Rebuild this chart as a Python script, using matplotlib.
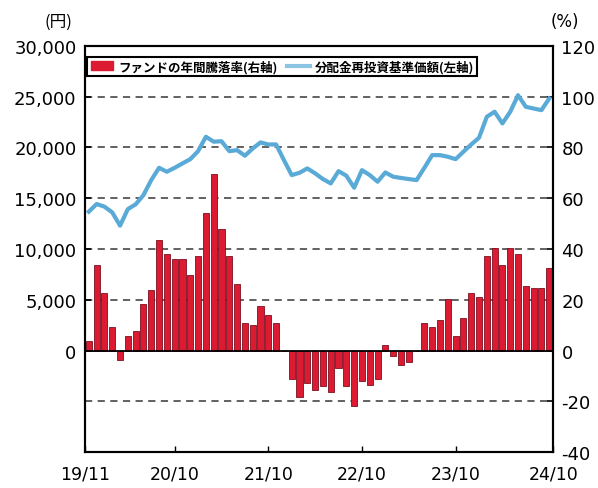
import matplotlib
matplotlib.use("Agg")
import matplotlib.pyplot as plt
from matplotlib.patches import Patch
from matplotlib.lines import Line2D
import numpy as np

plt.rcParams['font.family'] = ['DejaVu Sans', 'Noto Sans CJK JP']

# Annual return of the fund (%), right axis, monthly 2019/11 - 2024/10
annual_return = [3.8, 33.5, 22.8, 9.3, -3.9, 5.8, 7.5, 18.4, 23.8, 43.4,
                 38.0, 36.2, 36.2, 29.8, 37.1, 54.2, 69.4, 47.9, 37.1, 26.4,
                 11.0, 10.2, 17.5, 13.8, 11.0, 0.0, -11.2, -18.4, -12.9, -15.6,
                 -13.8, -16.4, -6.7, -13.8, -21.8, -11.9, -13.6, -11.2, 2.2, -2.1,
                 -5.6, -4.7, 0.0, 11.0, 9.3, 12.1, 20.1, 5.8, 13.0, 22.7,
                 21.1, 37.1, 40.3, 33.5, 40.3, 38.0, 25.5, 24.5, 24.5, 32.7]

# NAV with dividends reinvested (yen), left axis
nav = [13680, 14430, 14170, 13610, 12300, 13930, 14400, 15310, 16790, 18000,
       17610, 18000, 18430, 18850, 19640, 21060, 20570, 20620, 19640, 19740,
       19190, 19900, 20500, 20300, 20300, 18760, 17280, 17510, 17940, 17450,
       16890, 16460, 17670, 17220, 16040, 17770, 17280, 16630, 17540, 17120,
       17000, 16890, 16790, 18000, 19250, 19250, 19090, 18850, 19580, 20300,
       20960, 23030, 23520, 22370, 23520, 25150, 24010, 23840, 23680, 24830]

xtick_pos = [-0.5, 11, 23, 35, 47, 59.5]
xtick_labels = ['19/11', '20/10', '21/10', '22/10', '23/10', '24/10']
pct_ticks = [120, 100, 80, 60, 40, 20, 0, -20, -40]
yen_ticks = [30000, 25000, 20000, 15000, 10000, 5000, 0]

legend_bar = 'ファンドの年間騰落率(右軸)'
legend_line = '分配金再投資基準価額(左軸)'

fig = plt.figure(figsize=(5.98, 4.89), dpi=100)
ax = fig.add_axes([0.142, 0.0736, 0.783, 0.8303])
x = np.arange(len(annual_return))

# gridlines on % scale
for g in [100, 80, 60, 40, 20, -20]:
    ax.axhline(g, color='#555555', lw=1.3, ls=(0, (4, 3)), zorder=1)
ax.bar(x, annual_return, width=0.78, color='#dc1a32', edgecolor='#7a1020',
       linewidth=0.6, zorder=2)
ax.axhline(0, color='black', lw=1.3, zorder=3)
ax.set_ylim(-40, 120)
ax.set_xlim(-0.5, 59.5)
ax.set_xticks(xtick_pos)
ax.set_xticklabels(xtick_labels)
ax.tick_params(axis='x', direction='in', length=4, labelsize=12.5, pad=9, width=1)

ax2 = ax.twinx()
ax2.plot(x, nav, color='#5aaad8', lw=3, zorder=5, solid_joinstyle='round')
ax2.set_ylim(-10000, 30000)
ax2.yaxis.tick_left()
ax2.set_yticks(yen_ticks)
ax2.set_yticklabels([f'{v:,}' for v in yen_ticks])
ax2.tick_params(axis='y', direction='in', length=4, labelsize=13, pad=6, width=1.2)

ax.yaxis.tick_right()
ax.set_yticks(pct_ticks)
ax.set_yticklabels([str(v) for v in pct_ticks])
ax.tick_params(axis='y', direction='in', length=4, labelsize=13, pad=6, width=1.2)

for a in (ax, ax2):
    for s in a.spines.values():
        s.set_linewidth(1.5)
        s.set_color('black')

fig.text(0.097, 0.955, '(円)', fontsize=12, ha='center', va='center',
         family=['Noto Sans CJK JP', 'DejaVu Sans'])
fig.text(0.945, 0.955, '(%)', fontsize=12, ha='center', va='center')

handles = [Patch(facecolor='#dc1a32', edgecolor='#dc1a32'),
           Line2D([0], [0], color='#8cc4e4', lw=3)]
leg = ax2.legend(handles, [legend_bar, legend_line], loc='upper left',
                 bbox_to_anchor=(0.0, 0.98), ncol=2, frameon=True, fancybox=False,
                 edgecolor='black', framealpha=1, borderpad=0.25, handlelength=1.8,
                 handletextpad=0.4, columnspacing=0.8, borderaxespad=0.2,
                 prop={'family': ['Noto Sans CJK JP', 'DejaVu Sans'], 'size': 9,
                       'weight': 'bold'})
leg.get_frame().set_linewidth(1.5)

fig.savefig('out.png', dpi=100)
